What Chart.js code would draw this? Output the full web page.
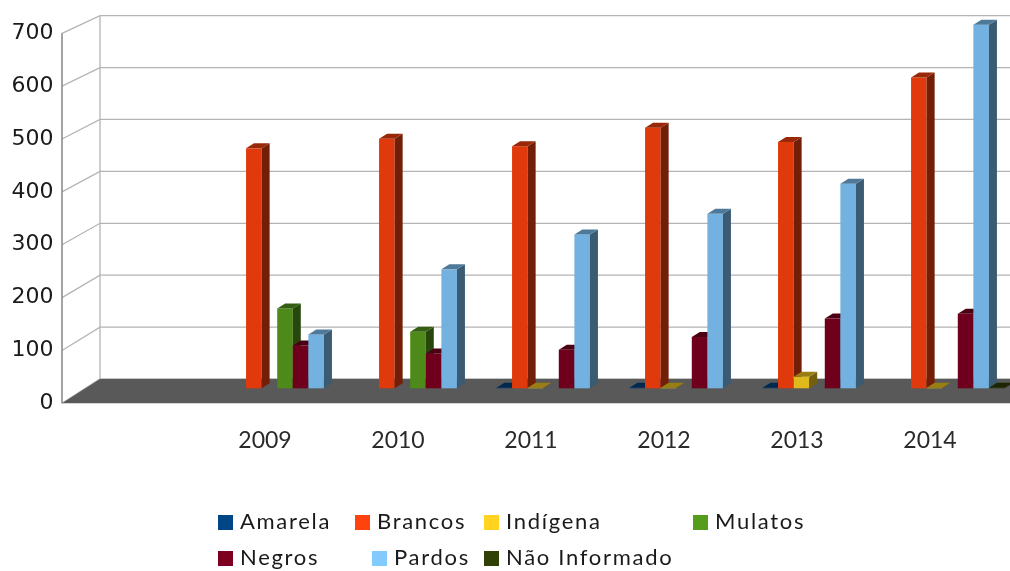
<!DOCTYPE html>
<html>
<head>
<meta charset="utf-8">
<script src="https://cdn.jsdelivr.net/npm/chart.js@4"></script>
<style>
  html, body { margin: 0; padding: 0; background: #fff; overflow: hidden; }
  #wrap { width: 1010px; height: 571px; }
</style>
</head>
<body>
<div id="wrap"><canvas id="myChart" width="1010" height="571"></canvas></div>
<script>
// first slot is left empty on purpose, the series start at 2009
const years = ["", "2009", "2010", "2011", "2012", "2013", "2014"];

const amarela = [null, null, null, 1, 1, 1, null];
const brancos = [null, 454, 472, 458, 493, 466, 588];
const indigena = [null, null, null, 1, 1, 22, 1];
const mulatos = [null, 151, 107, null, null, null, null];
const negros = [null, 81, 66, 73, 97, 132, 141];
const pardos = [null, 102, 225, 291, 330, 387, 688];
const naoInformado = [null, null, null, null, null, null, 1];

const seriesNames = ["Amarela", "Brancos", "Indígena", "Mulatos", "Negros", "Pardos", "Não Informado"];
const seriesValues = [amarela, brancos, indigena, mulatos, negros, pardos, naoInformado];
const seriesColors = ["#004586", "#ff420e", "#ffd320", "#579d1c", "#7e0021", "#83caff", "#314004"];

const yMax = 700;
const yStep = 100;

function shade(hex, f) {
  const n = parseInt(hex.slice(1), 16);
  const r = Math.round(((n >> 16) & 255) * f);
  const g = Math.round(((n >> 8) & 255) * f);
  const b = Math.round((n & 255) * f);
  return `rgb(${r},${g},${b})`;
}

// depth of the box and of the bars (oblique projection)
const WALL_DX = 38;
const WALL_DY = -24.3;
const BAR_SHIFT_X = 20;
const BAR_SHIFT_Y = -15;
const BAR_DX = 8;
const BAR_DY = -5;

const box3d = {
  id: "box3d",
  beforeDraw(chart) {
    const ctx = chart.ctx;
    const a = chart.chartArea;
    const y = chart.scales.y;
    const fx = a.left - 3.5;
    const bx = fx + WALL_DX;
    const y0 = y.getPixelForValue(0);
    const backY = (v) => y0 + WALL_DY - (y0 - y.getPixelForValue(v)) * 0.982;
    const W = chart.width + 60;

    ctx.save();
    ctx.fillStyle = "#fff";
    ctx.fillRect(0, 0, chart.width, chart.height);

    ctx.strokeStyle = "#b4b4b4";
    ctx.lineWidth = 1.3;
    for (let v = 0; v <= yMax; v += yStep) {
      const yf = y.getPixelForValue(v);
      const yb = backY(v);
      ctx.beginPath();
      ctx.moveTo(fx, yf);
      ctx.lineTo(bx, yb);
      ctx.lineTo(W, yb);
      ctx.stroke();
    }
    // back wall left edge
    ctx.beginPath();
    ctx.moveTo(bx, backY(yMax));
    ctx.lineTo(bx, backY(0));
    ctx.stroke();

    // front axis line
    ctx.strokeStyle = "#8c8c8c";
    ctx.lineWidth = 1.6;
    ctx.beginPath();
    ctx.moveTo(fx, y.getPixelForValue(yMax));
    ctx.lineTo(fx, y0);
    ctx.stroke();

    // floor
    ctx.fillStyle = "#595959";
    ctx.beginPath();
    ctx.moveTo(fx, y0);
    ctx.lineTo(bx, backY(0));
    ctx.lineTo(W, backY(0));
    ctx.lineTo(W, y0);
    ctx.closePath();
    ctx.fill();
    ctx.restore();
  },
  afterDatasetsDraw(chart) {
    // boxes are drawn left to right so each front face hides its neighbour's side
    const ctx = chart.ctx;
    ctx.save();
    ctx.translate(BAR_SHIFT_X, BAR_SHIFT_Y);
    seriesNames.forEach((name, s) => {
      const meta = chart.getDatasetMeta(s);
      const base = seriesColors[s];
      const front = shade(base, 0.88);
      const side = shade(base, 0.45);
      const top = shade(base, 0.6);
      meta.data.forEach((bar, i) => {
        if (seriesValues[s][i] == null) return;
        const p = bar.getProps(["x", "y", "base", "width"], true);
        const l = p.x - p.width / 2;
        const r = p.x + p.width / 2;
        ctx.fillStyle = front;
        ctx.fillRect(l, p.y, r - l, p.base - p.y);
        ctx.fillStyle = side;
        ctx.beginPath();
        ctx.moveTo(r, p.y);
        ctx.lineTo(r + BAR_DX, p.y + BAR_DY);
        ctx.lineTo(r + BAR_DX, p.base + BAR_DY);
        ctx.lineTo(r, p.base);
        ctx.closePath();
        ctx.fill();
        ctx.fillStyle = top;
        ctx.beginPath();
        ctx.moveTo(l, p.y);
        ctx.lineTo(l + BAR_DX, p.y + BAR_DY);
        ctx.lineTo(r + BAR_DX, p.y + BAR_DY);
        ctx.lineTo(r, p.y);
        ctx.closePath();
        ctx.fill();
      });
    });
    ctx.restore();
  },
  afterDraw(chart) {
    // legend, two rows under the plot
    const ctx = chart.ctx;
    const spots = [
      [218, 522], [355, 522], [484, 522], [693, 522],
      [218, 558], [372, 558], [484, 558],
    ];
    ctx.save();
    ctx.font = "22px Lato";
    ctx.letterSpacing = "1.7px";
    ctx.textBaseline = "middle";
    seriesNames.forEach((name, i) => {
      const [x, yy] = spots[i];
      ctx.fillStyle = seriesColors[i];
      ctx.fillRect(x, yy - 7, 15, 15);
      ctx.fillStyle = "#1a1a1a";
      ctx.fillText(name, x + 22, yy);
    });
    ctx.restore();
  },
};

const ctx = document.getElementById("myChart").getContext("2d");
window.myChart = new Chart(ctx, {
  type: "bar",
  data: {
    labels: years,
    datasets: seriesNames.map((name, i) => ({
      label: name,
      data: seriesValues[i],
      backgroundColor: "rgba(0,0,0,0)",
      borderWidth: 0,
      barPercentage: 1.0,
      categoryPercentage: 0.82,
    })),
  },
  options: {
    responsive: false,
    animation: false,
    layout: { padding: { left: 0, top: 33.3, right: 13.5, bottom: 0 } },
    plugins: {
      legend: { display: false },
      tooltip: { enabled: false },
    },
    scales: {
      x: {
        grid: { display: false, drawTicks: false },
        border: { display: false },
        ticks: {
          padding: 23,
          color: "#2a2a2a",
          font: { family: "Lato", size: 23 },
        },
        afterFit(scale) {
          scale.height = 571 - 403.3;
        },
      },
      y: {
        min: 0,
        max: yMax,
        grid: { display: false, drawTicks: false },
        border: { display: false },
        ticks: {
          stepSize: yStep,
          padding: 12,
          color: "#1a1a1a",
          font: { family: "DejaVu Sans", size: 22 },
        },
        afterFit(scale) {
          scale.width = 65.5;
        },
      },
    },
  },
  plugins: [box3d],
});
</script>
</body>
</html>
